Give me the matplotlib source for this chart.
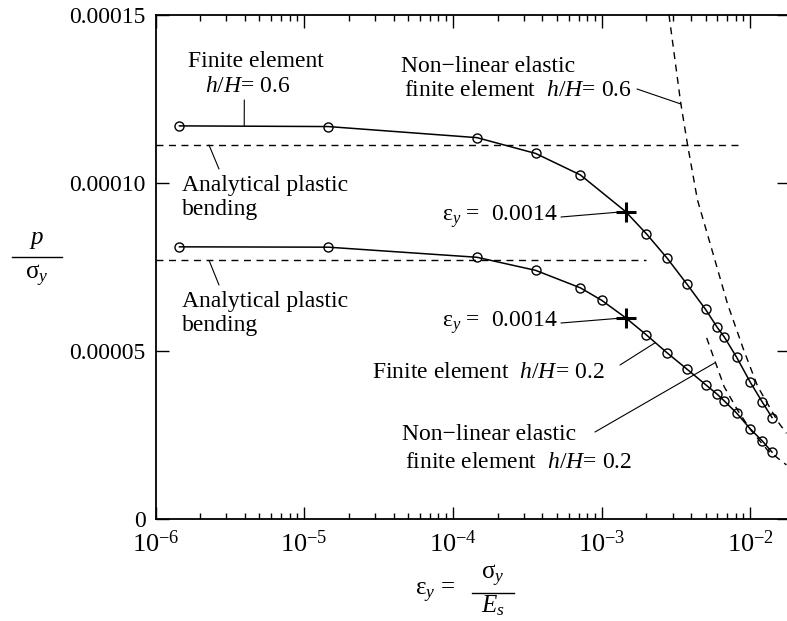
import matplotlib
matplotlib.use('Agg')
import matplotlib.pyplot as plt
from matplotlib.lines import Line2D
from matplotlib.ticker import FixedLocator, FixedFormatter, LogLocator

plt.rcParams['font.family'] = ['Liberation Serif', 'DejaVu Serif']
plt.rcParams['mathtext.fontset'] = 'custom'
plt.rcParams['mathtext.rm'] = 'Liberation Serif'
plt.rcParams['mathtext.it'] = 'Liberation Serif:italic'
plt.rcParams['font.size'] = 17

# finite element, h/H = 0.6 (the '+' is eps_y = 0.0014)
eps_fe06 = [1.45e-6, 1.45e-5, 1.45e-4, 3.6e-4, 7.2e-4, 1.45e-3, 2.0e-3, 2.75e-3,
            3.75e-3, 5.0e-3, 6.0e-3, 6.7e-3, 8.1e-3, 1.0e-2, 1.2e-2, 1.4e-2]
p_fe06 = [1.170e-4, 1.168e-4, 1.135e-4, 1.088e-4, 1.024e-4, 9.15e-5, 8.49e-5, 7.77e-5,
          6.99e-5, 6.24e-5, 5.70e-5, 5.41e-5, 4.81e-5, 4.07e-5, 3.49e-5, 3.02e-5]
mark06 = 5

# finite element, h/H = 0.2
eps_fe02 = [1.45e-6, 1.45e-5, 1.45e-4, 3.6e-4, 7.2e-4, 1.0e-3, 1.45e-3, 2.0e-3, 2.75e-3,
            3.75e-3, 5.0e-3, 6.0e-3, 6.7e-3, 8.1e-3, 1.0e-2, 1.2e-2, 1.4e-2]
p_fe02 = [8.10e-5, 8.09e-5, 7.79e-5, 7.40e-5, 6.88e-5, 6.51e-5, 5.99e-5, 5.48e-5, 4.95e-5,
          4.46e-5, 4.00e-5, 3.71e-5, 3.51e-5, 3.15e-5, 2.68e-5, 2.33e-5, 1.99e-5]
mark02 = 6

# analytical plastic bending levels
eps_pb06 = [1e-6, 8.4e-3]
p_pb06 = [1.113e-4, 1.113e-4]
eps_pb02 = [1e-6, 2.0e-3]
p_pb02 = [7.70e-5, 7.70e-5]

# non-linear elastic finite element
eps_nl06 = [2.84e-3, 3.4e-3, 3.78e-3, 4.41e-3, 5.7e-3, 7.03e-3, 9.08e-3, 1.12e-2, 1.53e-2, 1.75e-2]
p_nl06 = [1.50e-4, 1.24e-4, 1.115e-4, 9.5e-5, 7.8e-5, 6.4e-5, 5.0e-5, 3.95e-5, 2.9e-5, 2.55e-5]
eps_nl02 = [5.09e-3, 5.86e-3, 6.67e-3, 8.21e-3, 1.007e-2, 1.305e-2, 1.75e-2]
p_nl02 = [5.39e-5, 4.63e-5, 3.94e-5, 3.24e-5, 2.65e-5, 2.05e-5, 1.61e-5]

yticks = [0, 5e-5, 1e-4, 1.5e-4]
ytick_labels = ['0', '0.00005', '0.00010', '0.00015']

W, H = 787, 621
L, R, T, B = 155.5, 789, 15, 519
fig = plt.figure(figsize=(W / 100, H / 100), dpi=100)
ax = fig.add_axes([L / W, (H - B) / H, (R - L) / W, (B - T) / H])


def at(px, py):
    # pixel position (from top-left of image) -> axes fraction
    return ((px - L) / (R - L), (B - py) / (B - T))


def fig_at(px, py):
    return (px / W, (H - py) / H)


dash = (0, (5, 4))
ax.plot(eps_pb06, p_pb06, color='black', lw=1, ls=dash)
ax.plot(eps_pb02, p_pb02, color='black', lw=1, ls=dash)
ax.plot(eps_nl06, p_nl06, color='black', lw=1, ls=dash)
ax.plot(eps_nl02, p_nl02, color='black', lw=1, ls=dash)

for xs, ys, m in [(eps_fe06, p_fe06, mark06), (eps_fe02, p_fe02, mark02)]:
    circ = [i for i in range(len(xs)) if i != m]
    ax.plot(xs, ys, color='black', lw=1.1, marker='o', markersize=6.5,
            markerfacecolor='none', markeredgewidth=1, markevery=circ)
    ax.plot([xs[m]], [ys[m]], color='black', marker='+', markersize=15,
            markeredgewidth=2.2, ls='none')

ax.set_xscale('log')
ax.set_xlim(1e-6, 10 ** (-6 + (R - L) / 148.7))
ax.set_ylim(0, 1.5e-4)
ax.yaxis.set_major_locator(FixedLocator(yticks))
ax.yaxis.set_major_formatter(FixedFormatter(ytick_labels))
ax.xaxis.set_major_locator(LogLocator(base=10, numticks=10))
ax.xaxis.set_minor_locator(LogLocator(base=10, subs=range(2, 10), numticks=20))
ax.tick_params(which='both', direction='in', top=True, right=True, width=1)
ax.tick_params(which='major', length=9)
ax.tick_params(which='minor', length=4.5)
ax.tick_params(axis='y', pad=7, labelsize=17)
ax.tick_params(axis='x', pad=8, labelsize=19)
for s in ax.spines.values():
    s.set_linewidth(1.3)

# annotations
txt = dict(fontsize=17, va='center')
ax.text(*at(188, 62), 'Finite element', transform=ax.transAxes, ha='left', **txt)
ax.text(*at(205, 86), r'$h/H$= 0.6', transform=ax.transAxes, ha='left', **txt)
ax.annotate('', xy=(3.95e-6, 1.169e-4), xytext=at(244.3, 100), textcoords='axes fraction',
            arrowprops=dict(arrowstyle='-', lw=0.8, shrinkA=0, shrinkB=0))

for cy, lvl in [(186, p_pb06[0]), (302, p_pb02[0])]:
    ax.text(*at(182, cy), 'Analytical plastic', transform=ax.transAxes, ha='left', **txt)
    ax.text(*at(182, cy + 24), 'bending', transform=ax.transAxes, ha='left', **txt)
    ax.annotate('', xy=(2.29e-6, lvl), xytext=at(219, cy - 17), textcoords='axes fraction',
                arrowprops=dict(arrowstyle='-', lw=0.8, shrinkA=0, shrinkB=0))

for cy, xs, ys, m in [(217, eps_fe06, p_fe06, mark06), (323, eps_fe02, p_fe02, mark02)]:
    ax.text(*at(558, cy), r'$\mathrm{ε}_y$ =  0.0014', transform=ax.transAxes, ha='right', **txt)
    ax.annotate('', xy=(xs[m], ys[m]), xytext=at(561, cy), textcoords='axes fraction',
                arrowprops=dict(arrowstyle='-', lw=0.8, shrinkA=0, shrinkB=0))

ax.text(*at(605, 373), r'Finite element  $h/H$= 0.2', transform=ax.transAxes, ha='right', **txt)
ax.annotate('', xy=(2.3e-3, 5.25e-5), xytext=at(620, 365), textcoords='axes fraction',
            arrowprops=dict(arrowstyle='-', lw=0.8, shrinkA=0, shrinkB=0))

ax.text(*at(402, 435), 'Non\u2212linear elastic', transform=ax.transAxes, ha='left', **txt)
ax.text(*at(405, 462), r'finite element  $h/H$= 0.2', transform=ax.transAxes, ha='left', **txt)
ax.annotate('', xy=(5.79e-3, 4.65e-5), xytext=at(595, 432), textcoords='axes fraction',
            arrowprops=dict(arrowstyle='-', lw=0.8, shrinkA=0, shrinkB=0))

ax.text(*at(401, 67), 'Non\u2212linear elastic', transform=ax.transAxes, ha='left', **txt)
ax.text(*at(632, 91), r'finite element  $h/H$= 0.6', transform=ax.transAxes, ha='right', **txt)
ax.annotate('', xy=(3.42e-3, 1.235e-4), xytext=at(637, 89), textcoords='axes fraction',
            arrowprops=dict(arrowstyle='-', lw=0.8, shrinkA=0, shrinkB=0))

# y label: p / sigma_y
fig.text(*fig_at(37, 240), r'$p$', ha='center', va='center', fontsize=18)
fig.add_artist(Line2D([12 / W, 62 / W], [(H - 257) / H] * 2, color='black', lw=1))
fig.text(*fig_at(37, 276), r'$\mathrm{σ}_y$', ha='center', va='center', fontsize=18)

# x label: eps_y = sigma_y / E_s
fig.text(*fig_at(455, 593), r'$\mathrm{ε}_y$ =', ha='right', va='center', fontsize=18)
fig.add_artist(Line2D([472 / W, 514 / W], [(H - 593) / H] * 2, color='black', lw=1))
fig.text(*fig_at(493, 576), r'$\mathrm{σ}_y$', ha='center', va='center', fontsize=18)
fig.text(*fig_at(493, 606), r'$E_s$', ha='center', va='center', fontsize=18)

fig.savefig('out.png', dpi=100)
